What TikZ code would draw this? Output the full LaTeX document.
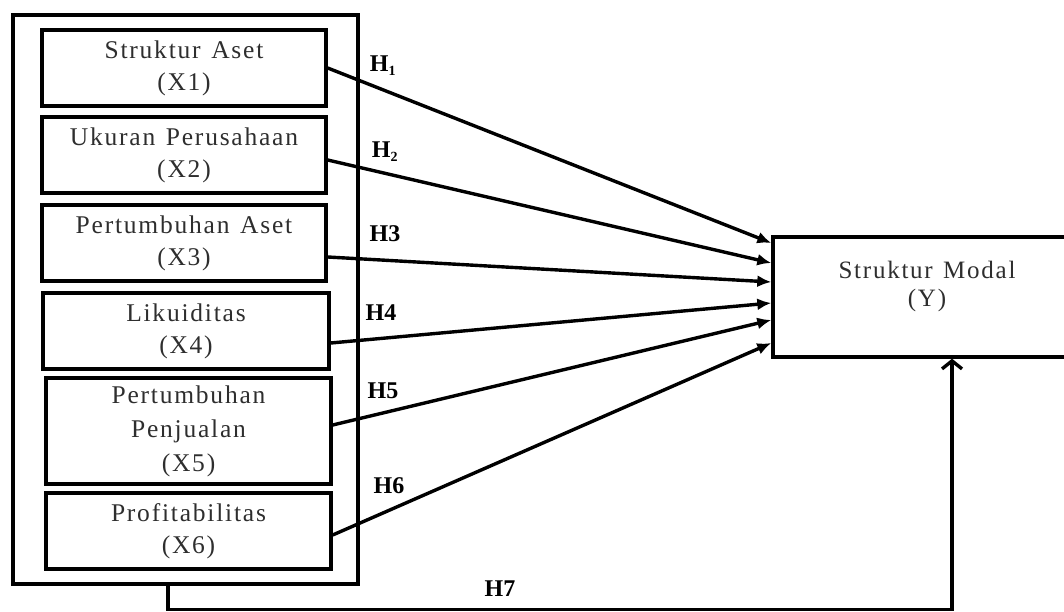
\documentclass[tikz,border=0pt]{standalone}
\usepackage{fontspec}
\setmainfont{Liberation Serif}
\newfontfamily\boxfont[LetterSpace=7,WordSpace=1.3]{Liberation Serif}
\usetikzlibrary{arrows.meta,calc}
\definecolor{txt}{rgb}{0.18,0.18,0.18}
\begin{document}
\begin{tikzpicture}[x=1pt,y=-1pt,
  varbox/.style={draw,line width=3.4pt,minimum width=284pt,minimum height=76pt,inner sep=0pt,align=center,
     font={\boxfont\fontsize{25.5}{32}\selectfont},text=txt},
  hlab/.style={font={\bfseries\fontsize{24}{28}\selectfont},inner sep=0pt},
  fan/.style={line width=3.4pt,-{Latex[length=14pt,width=12pt]}}]
\useasboundingbox (0,0) rectangle (1064,612);
\node[draw,line width=3.4pt,minimum width=345pt,minimum height=569pt,inner sep=0pt] (outer) at (185.5,299.5) {};
\node[varbox] (b1) at (184,68) {Struktur Aset\\(X1)};
\node[varbox] (b2) at (184,155) {Ukuran Perusahaan\\(X2)};
\node[varbox] (b3) at (184,243) {Pertumbuhan Aset\\(X3)};
\node[varbox,minimum width=286pt] (b4) at (186,331) {Likuiditas\\(X4)};
\node[varbox,minimum width=285pt,minimum height=106pt,font={\boxfont\fontsize{25.5}{34}\selectfont}] (b5) at (188.5,431) {Pertumbuhan\\Penjualan\\(X5)};
\node[varbox,minimum width=285pt] (b6) at (188.5,531) {Profitabilitas\\(X6)};
\node[draw,line width=3.4pt,minimum width=307pt,minimum height=120pt,inner sep=0pt] (y) at (926.5,297) {};
\node[font={\boxfont\fontsize{25}{28}\selectfont},text=txt,align=center] (ylab) at (927,286) {Struktur Modal\\(Y)};
\draw[fan] (b1.east) -- ([yshift=54pt]y.west);
\draw[fan] ([yshift=-5pt]b2.east) -- ([yshift=34pt]y.west);
\draw[fan] ([yshift=-14pt]b3.east) -- ([yshift=15pt]y.west);
\draw[fan] ([yshift=-12pt]b4.east) -- ([yshift=-6pt]y.west);
\draw[fan] ([yshift=6pt]b5.east) -- ([yshift=-23pt]y.west);
\draw[fan] ([yshift=-4pt]b6.east) -- ([yshift=-46pt]y.west);
\node[hlab] (h1) at (383,66) {H\textsubscript{\fontsize{14}{14}\selectfont 1}};
\node[hlab] (h2) at (385,152) {H\textsubscript{\fontsize{14}{14}\selectfont 2}};
\node[hlab] (h3) at (385,234) {H3};
\node[hlab] (h4) at (381,313) {H4};
\node[hlab] (h5) at (383,391) {H5};
\node[hlab] (h6) at (389,486) {H6};
\node[hlab] (h7) at (500,589) {H7};
\coordinate (bend) at (0,609.5);
\coordinate (h7a) at ([xshift=-17.5pt]outer.south);
\coordinate (h7b) at ([xshift=25.5pt]y.south);
\draw[line width=3.4pt,-{Straight Barb[length=8pt,width=20pt]}] (h7a) -- (h7a |- bend) -| (h7b);
\end{tikzpicture}
\end{document}
